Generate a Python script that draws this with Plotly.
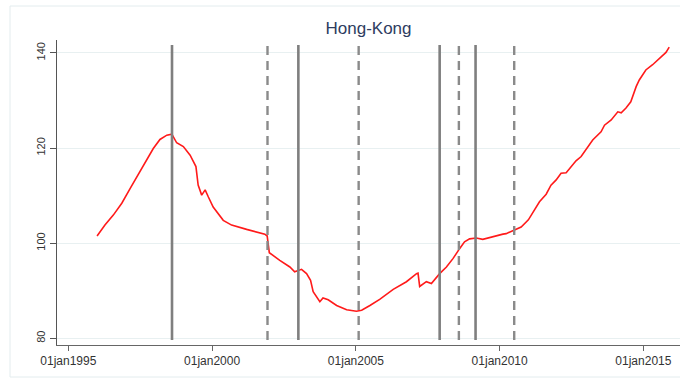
import plotly.graph_objects as go

# House price index, Hong-Kong
dates = [
    "1996-01-01", "1996-04-10", "1996-07-25", "1996-11-10", "1997-02-25",
    "1997-06-10", "1997-09-25", "1997-12-15", "1998-03-10", "1998-06-05",
    "1998-08-08", "1998-10-08", "1999-01-01", "1999-03-28", "1999-06-10",
    "1999-07-08", "1999-08-22", "1999-10-05", "1999-11-15", "2000-01-15",
    "2000-05-22", "2000-09-05", "2001-03-15", "2001-11-01", "2001-12-01",
    "2001-12-28", "2002-05-10", "2002-09-15", "2002-11-15", "2003-02-10",
    "2003-04-15", "2003-06-05", "2003-07-08", "2003-08-28", "2003-10-01",
    "2003-11-10", "2004-01-15", "2004-05-01", "2004-09-05", "2005-01-08",
    "2005-03-15", "2005-06-28", "2005-10-30", "2006-04-20", "2006-10-05",
    "2007-02-10", "2007-03-01", "2007-03-22", "2007-06-15", "2007-08-18",
    "2007-09-28", "2007-12-01", "2008-02-25", "2008-05-20", "2008-08-12",
    "2008-10-12", "2008-12-15", "2009-03-10", "2009-06-01", "2009-10-08",
    "2010-02-12", "2010-03-25", "2010-06-18", "2010-10-01", "2011-01-01",
    "2011-03-20", "2011-05-22", "2011-08-15", "2011-10-15", "2011-12-20",
    "2012-02-20", "2012-04-25", "2012-06-28", "2012-08-28", "2012-11-01",
    "2013-01-05", "2013-03-28", "2013-07-12", "2013-08-25", "2013-11-18",
    "2014-02-10", "2014-03-25", "2014-05-25", "2014-07-25", "2014-10-01",
    "2014-11-10", "2015-02-01", "2015-04-28", "2015-07-22", "2015-10-15",
    "2015-11-25",
]
index = [
    101.5, 103.8, 105.9, 108.4, 111.5,
    114.5, 117.5, 119.9, 121.8, 122.7,
    122.9, 121.1, 120.3, 118.5, 116.1,
    112.2, 110.1, 111.2, 109.7, 107.6,
    104.8, 103.8, 102.9, 101.9, 101.5,
    98.0, 96.4, 95.0, 94.0, 94.5,
    93.6, 92.2, 89.8, 88.6, 87.7,
    88.5, 88.1, 86.9, 86.0, 85.7,
    85.9, 86.9, 88.2, 90.3, 91.9,
    93.6, 93.7, 90.9, 91.9, 91.5,
    92.4, 93.6, 95.0, 96.8, 98.9,
    100.3, 100.9, 101.1, 100.8, 101.4,
    101.9, 102.0, 102.6, 103.4, 104.9,
    106.9, 108.7, 110.3, 112.2, 113.3,
    114.7, 114.8, 116.1, 117.3, 118.2,
    119.7, 121.7, 123.4, 124.8, 125.9,
    127.6, 127.4, 128.4, 129.7, 132.9,
    134.3, 136.4, 137.5, 138.9, 140.1,
    141.2,
]

# Reference dates drawn as vertical lines
solid_dates = ["1998-08-10", "2003-01-01", "2007-12-01", "2009-03-01"]
dashed_dates = ["2001-12-05", "2005-02-05", "2008-08-01", "2010-07-05"]

tick_dates = ["1995-01-01", "2000-01-01", "2005-01-01", "2010-01-01", "2015-01-01"]
tick_text = ["01jan1995", "01jan2000", "01jan2005", "01jan2010", "01jan2015"]
y_ticks = [80, 100, 120, 140]

W, H = 680, 379
ML, MR, MT, MB = 57, 0, 40, 34
PW, PH = W - ML - MR, H - MT - MB

fig = go.Figure()
fig.add_trace(go.Scatter(
    x=dates, y=index, mode="lines",
    line=dict(color="#ff1a1a", width=1.6),
    hoverinfo="skip", showlegend=False,
))

shapes = []
for d in solid_dates:
    shapes.append(dict(type="line", xref="x", yref="paper", x0=d, x1=d,
                       y0=0.016, y1=0.984,
                       line=dict(color="#7f7f7f", width=2.6)))
for d in dashed_dates:
    shapes.append(dict(type="line", xref="x", yref="paper", x0=d, x1=d,
                       y0=0.016, y1=0.984,
                       line=dict(color="#8a8a8a", width=2.4, dash="9px,6px")))

# light outer frame around the graph region
fx0 = (10 - ML) / PW
fx1 = (W + 5 - ML) / PW
fy0 = (H - MB - 377) / PH
fy1 = (H - MB - 6) / PH
shapes.append(dict(type="rect", xref="paper", yref="paper",
                   x0=fx0, x1=fx1, y0=fy0, y1=fy1,
                   line=dict(color="#e3ecee", width=1), layer="below"))

fig.update_layout(
    width=W, height=H,
    margin=dict(l=ML, r=MR, t=MT, b=MB),
    paper_bgcolor="white", plot_bgcolor="white",
    font=dict(family="Liberation Sans, Arial, sans-serif", color="#333333"),
    title=dict(text="Hong-Kong", x=(ML + PW / 2) / W, xanchor="center",
               y=1 - 28 / H, yanchor="middle",
               font=dict(size=17, color="#2e3c60")),
    shapes=shapes,
    xaxis=dict(
        type="date", range=["1994-08-10", "2016-04-10"],
        tickmode="array", tickvals=tick_dates, ticktext=tick_text,
        ticks="outside", ticklen=5, tickcolor="#666", tickwidth=1,
        showline=True, linecolor="#666", linewidth=1,
        showgrid=False, zeroline=False,
        tickfont=dict(size=12, color="#333333"),
    ),
    yaxis=dict(
        range=[78.6, 142.7],
        tickmode="array", tickvals=y_ticks,
        ticks="outside", ticklen=6, tickcolor="#555", tickwidth=1,
        showline=True, linecolor="#555", linewidth=1.3,
        showgrid=True, gridcolor="#e8f0f1", gridwidth=1,
        zeroline=False, tickangle=-90,
        tickfont=dict(size=11, color="#333333"),
    ),
)

fig.write_html("out.html")
